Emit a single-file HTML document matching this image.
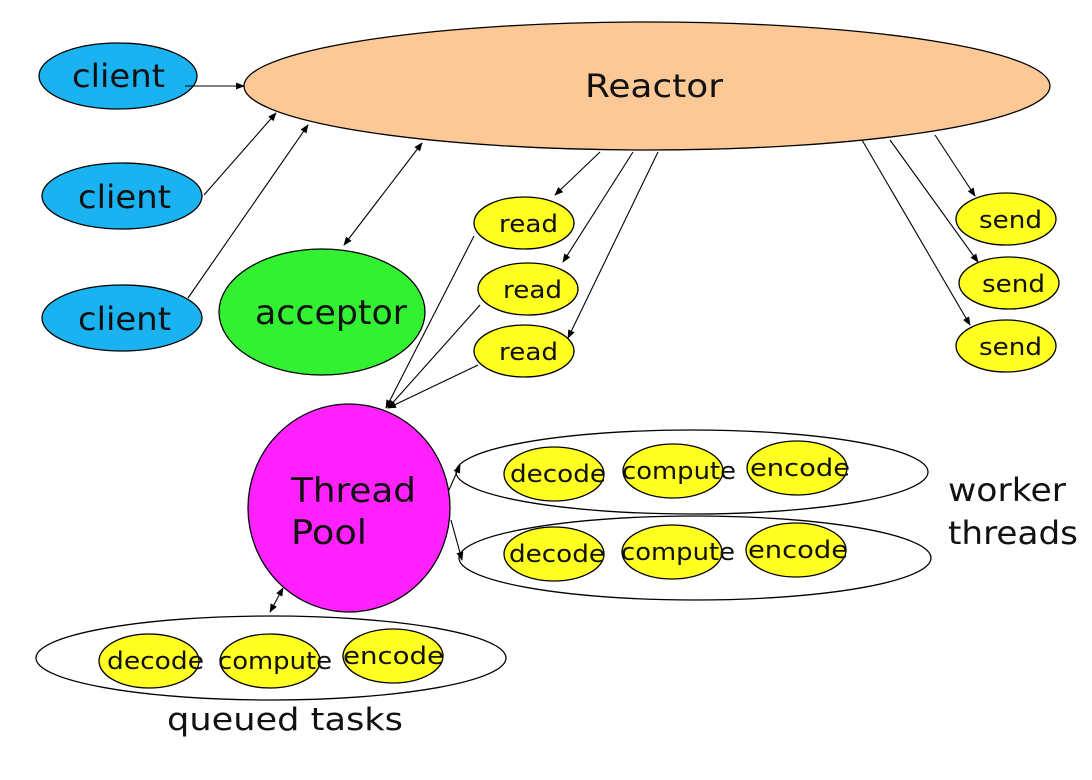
<!DOCTYPE html>
<html><head><meta charset="utf-8"><style>
html,body{margin:0;padding:0;background:#fff;}
svg{display:block;}
text{font-family:"DejaVu Sans","Liberation Sans",sans-serif;fill:#111;}
</style></head><body>
<svg width="1092" height="780" viewBox="0 0 1092 780" xmlns="http://www.w3.org/2000/svg">
<defs>
<marker id="a" viewBox="0 0 10 10" refX="9" refY="5" markerWidth="8" markerHeight="8" orient="auto-start-reverse">
<path d="M0,1 L10,5 L0,9 z" fill="#000"/></marker>
</defs>
<g stroke="#000" stroke-width="1.3">
<ellipse cx="647" cy="86" rx="403" ry="64" fill="#fcc896"/>
<ellipse cx="118" cy="76" rx="79" ry="33" fill="#1ab2f0"/>
<ellipse cx="122" cy="196" rx="80" ry="33" fill="#1ab2f0"/>
<ellipse cx="122" cy="318" rx="80" ry="33" fill="#1ab2f0"/>
<ellipse cx="322" cy="312" rx="103" ry="63" fill="#33f033"/>
<ellipse cx="524" cy="223" rx="50" ry="26" fill="#ffff22"/>
<ellipse cx="528" cy="289" rx="50" ry="26" fill="#ffff22"/>
<ellipse cx="524" cy="351" rx="50" ry="26" fill="#ffff22"/>
<ellipse cx="1006" cy="219" rx="50" ry="26" fill="#ffff22"/>
<ellipse cx="1009" cy="283" rx="50" ry="26" fill="#ffff22"/>
<ellipse cx="1006" cy="346" rx="50" ry="26" fill="#ffff22"/>
<ellipse cx="349" cy="508" rx="101" ry="104" fill="#ff22ff"/>
<ellipse cx="692" cy="472" rx="236" ry="42" fill="#fff"/>
<ellipse cx="695" cy="558" rx="236" ry="42" fill="#fff"/>
<ellipse cx="271" cy="658" rx="235" ry="42" fill="#fff"/>
<ellipse cx="554" cy="474" rx="50" ry="27" fill="#ffff22"/>
<ellipse cx="673" cy="471" rx="50" ry="27" fill="#ffff22"/>
<ellipse cx="797" cy="468" rx="50" ry="27" fill="#ffff22"/>
<ellipse cx="554" cy="554" rx="50" ry="27" fill="#ffff22"/>
<ellipse cx="672" cy="552" rx="50" ry="27" fill="#ffff22"/>
<ellipse cx="796" cy="550" rx="50" ry="27" fill="#ffff22"/>
<ellipse cx="149" cy="661" rx="50" ry="27" fill="#ffff22"/>
<ellipse cx="270" cy="661" rx="50" ry="27" fill="#ffff22"/>
<ellipse cx="393" cy="656" rx="50" ry="27" fill="#ffff22"/>
</g>
<g stroke="#000" stroke-width="1.1" fill="none" marker-end="url(#a)">
<line x1="185" y1="86" x2="244" y2="86"/>
<line x1="204" y1="195" x2="276" y2="113"/>
<line x1="188" y1="298" x2="308" y2="125"/>
<line x1="344" y1="245" x2="422" y2="143" marker-start="url(#a)"/>
<line x1="600" y1="152" x2="555" y2="195"/>
<line x1="633" y1="152" x2="563" y2="262"/>
<line x1="658" y1="152" x2="568" y2="338"/>
<line x1="474" y1="236" x2="386" y2="408"/>
<line x1="480" y1="305" x2="388" y2="408"/>
<line x1="478" y1="365" x2="388" y2="408"/>
<line x1="935" y1="135" x2="975" y2="196"/>
<line x1="890" y1="140" x2="978" y2="262"/>
<line x1="862" y1="140" x2="970" y2="325"/>
<line x1="449" y1="490" x2="460" y2="465"/>
<line x1="451" y1="520" x2="462" y2="560"/>
<line x1="270" y1="612" x2="283" y2="588" marker-start="url(#a)"/>
</g>
<g font-size="32" lengthAdjust="spacingAndGlyphs">
<text x="585" y="97" font-size="32" textLength="138" lengthAdjust="spacingAndGlyphs">Reactor</text>
<text x="72" y="87" textLength="93" lengthAdjust="spacingAndGlyphs">client</text>
<text x="78" y="208" textLength="93" lengthAdjust="spacingAndGlyphs">client</text>
<text x="78" y="330" textLength="93" lengthAdjust="spacingAndGlyphs">client</text>
<text x="255" y="324" font-size="34" textLength="152" lengthAdjust="spacingAndGlyphs">acceptor</text>
</g>
<g font-size="24">
<text x="499" y="232" textLength="59" lengthAdjust="spacingAndGlyphs">read</text>
<text x="503" y="298" textLength="59" lengthAdjust="spacingAndGlyphs">read</text>
<text x="499" y="360" textLength="59" lengthAdjust="spacingAndGlyphs">read</text>
<text x="979" y="228" textLength="63" lengthAdjust="spacingAndGlyphs">send</text>
<text x="982" y="292" textLength="63" lengthAdjust="spacingAndGlyphs">send</text>
<text x="979" y="355" textLength="63" lengthAdjust="spacingAndGlyphs">send</text>
</g>
<g font-size="24">
<text x="510" y="482" textLength="96" lengthAdjust="spacingAndGlyphs">decode</text>
<text x="622" y="479" textLength="114" lengthAdjust="spacingAndGlyphs">compute</text>
<text x="750" y="476" textLength="100" lengthAdjust="spacingAndGlyphs">encode</text>
<text x="509" y="562" textLength="96" lengthAdjust="spacingAndGlyphs">decode</text>
<text x="621" y="560" textLength="114" lengthAdjust="spacingAndGlyphs">compute</text>
<text x="748" y="558" textLength="100" lengthAdjust="spacingAndGlyphs">encode</text>
<text x="107" y="669" textLength="97" lengthAdjust="spacingAndGlyphs">decode</text>
<text x="218" y="669" textLength="114" lengthAdjust="spacingAndGlyphs">compute</text>
<text x="343" y="664" textLength="101" lengthAdjust="spacingAndGlyphs">encode</text>
</g>
<text x="291" y="502" font-size="34" textLength="125" lengthAdjust="spacingAndGlyphs">Thread</text>
<text x="291" y="544" font-size="34" textLength="76" lengthAdjust="spacingAndGlyphs">Pool</text>
<text x="948" y="501" font-size="32" textLength="118" lengthAdjust="spacingAndGlyphs">worker</text>
<text x="948" y="544" font-size="32" textLength="130" lengthAdjust="spacingAndGlyphs">threads</text>
<text x="167" y="730" font-size="31" textLength="236" lengthAdjust="spacingAndGlyphs">queued tasks</text>
</svg>
</body></html>
